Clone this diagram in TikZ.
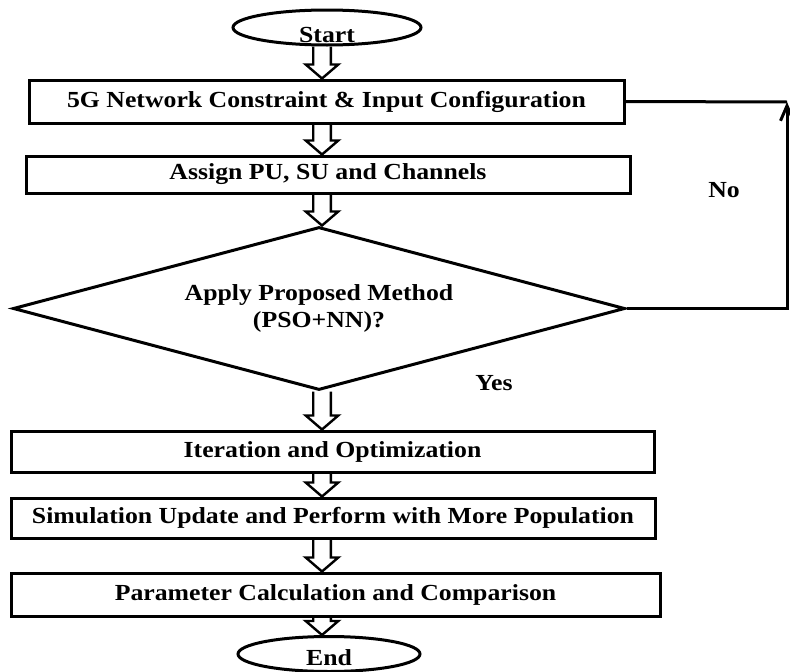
\documentclass[tikz,border=0pt]{standalone}
\usepackage{fontspec}
\setmainfont{Liberation Serif}[FakeStretch=1.12]
\usetikzlibrary{shapes.geometric,arrows.meta,calc,backgrounds}
\tikzset{
  flowbox/.style={rectangle,draw,line width=3pt,inner sep=0pt},
  terminal/.style={ellipse,draw,line width=3pt,inner sep=0pt},
  decision/.style={diamond,draw,line width=3pt,aspect=3.8,inner sep=0pt,align=center},
  hollow/.style={draw,fill=white,line width=2.4pt,line join=miter,
    to path={let \p1=(\tikztostart),\p2=(\tikztotarget) in
      (\x1-8.8pt,\y1)--(\x1-8.8pt,\y2+14pt)--(\x1-16.3pt,\y2+14pt)--(\x1,\y2)
      --(\x1+16.3pt,\y2+14pt)--(\x1+8.8pt,\y2+14pt)--(\x1+8.8pt,\y1)}},
  loopline/.style={line width=3pt}
}

\begin{document}
\begin{tikzpicture}[x=1pt,y=-1pt,font=\fontsize{23}{27}\selectfont\bfseries]
  \useasboundingbox (0,0) rectangle (790,672);
  \node (start) at (327,27.5) [terminal,minimum width=188pt,minimum height=35pt,label={[yshift=-7pt]center:Start}] {};
  \node (config) at (326.5,101.5) [flowbox,minimum width=595pt,minimum height=43pt] {5G Network Constraint \& Input Configuration};
  \node (assign) at (328,174.5) [flowbox,minimum width=604pt,minimum height=37pt] {Assign PU, SU and Channels};
  \node (apply) at (319,308.5) [decision,minimum width=612pt,minimum height=163pt] {Apply Proposed Method\\(PSO+NN)?};
  \node (iter) at (332.5,451.5) [flowbox,minimum width=643pt,minimum height=41pt] {Iteration and Optimization};
  \node (sim) at (333,518) [flowbox,minimum width=644pt,minimum height=40pt] {Simulation Update and Perform with More Population};
  \node (param) at (335.5,594.5) [flowbox,minimum width=649pt,minimum height=43pt] {Parameter Calculation and Comparison};
  \node (stop) at (329,654) [terminal,minimum width=182pt,minimum height=35pt,label={[yshift=-4pt]center:End}] {};
  \node (no) at (724,190) {No};
  \node (yes) at (494,383) {Yes};
  \coordinate (axis) at (322,0);
  \coordinate (corner) at (787,102);
  \begin{scope}[on background layer]
    \draw [hollow] (start.south -| axis) to (config.north -| axis);
    \draw [hollow] (config.south -| axis) to (assign.north -| axis);
    \draw [hollow] (assign.south -| axis) to (apply.north -| axis);
    \draw [hollow] (apply.south -| axis) to (iter.north -| axis);
    \draw [hollow] (iter.south -| axis) to (sim.north -| axis);
    \draw [hollow] (sim.south -| axis) to (param.north -| axis);
    \draw [hollow] (param.south -| axis) to (stop.north -| axis);
  \end{scope}
  \draw [loopline] (config.east) -- (corner);
  \draw [loopline,-{Straight Barb[length=15pt,width=13pt]}] (apply.east) -| (corner);
\end{tikzpicture}
\end{document}
